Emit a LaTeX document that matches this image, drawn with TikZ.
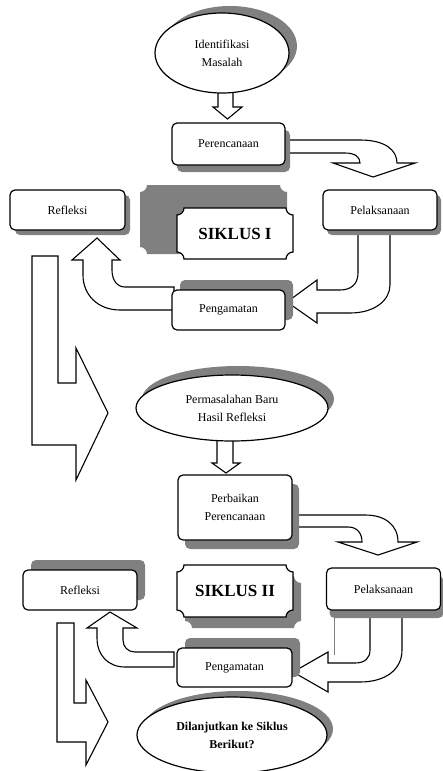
\documentclass[tikz,border=0pt]{standalone}
\usepackage{fontspec}
\setmainfont{Liberation Serif}
\usetikzlibrary{shapes.geometric,shadows}
\definecolor{shadowgrey}{RGB}{128,128,128}
\newcommand\plaquepath[5]{({#1+#5},#2) -- ({#3-#5},#2) .. controls ({#3-#5},{#2+0.55*#5}) and ({#3-0.55*#5},{#2+#5}) .. (#3,{#2+#5}) -- (#3,{#4-#5}) .. controls ({#3-0.55*#5},{#4-#5}) and ({#3-#5},{#4-0.55*#5}) .. ({#3-#5},#4) -- ({#1+#5},#4) .. controls ({#1+#5},{#4-0.55*#5}) and ({#1+0.55*#5},{#4-#5}) .. (#1,{#4-#5}) -- (#1,{#2+#5}) .. controls ({#1+0.55*#5},{#2+#5}) and ({#1+#5},{#2+0.55*#5}) .. ({#1+#5},#2) -- cycle}
\tikzset{
  lbl/.style={font=\fontsize{12}{18}\selectfont, align=center},
  box/.style={lbl, draw=black, line width=1.2pt, fill=white, rounded corners=5pt, inner sep=0pt},
  oval/.style={lbl, ellipse, draw=black, line width=1.2pt, fill=white, inner sep=0pt},
  shd/.style 2 args={drop shadow={shadow xshift=#1, shadow yshift=#2, fill=shadowgrey, opacity=1}},
  barrow/.style={draw=black, line width=1.1pt, fill=white, line join=miter},
  plq/.style={draw=black, line width=1.2pt, fill=white},
  big/.style={font=\fontsize{17}{20}\selectfont\bfseries},
}
\begin{document}
\begin{tikzpicture}[x=1pt,y=-1pt]
\useasboundingbox (0,0) rectangle (443,771);
\fill[white] (0,0) rectangle (443,771);

% ---------- shadows of plaques ----------
\fill[shadowgrey] \plaquepath{140}{185}{287}{254}{7};
\fill[shadowgrey] \plaquepath{185}{576}{301}{628}{7};

% ---------- block arrows (cycle I) ----------
\draw[barrow] (218,90) -- (233,90) -- (233,107) -- (242,107) -- (227.5,119) -- (213,107) -- (218,107) -- cycle;
\draw[barrow] (283,140) -- (360,140) .. controls (385,140) and (397,150) .. (397,163) -- (415,163) -- (373,177) -- (333,163) -- (360,163) .. controls (360,157) and (355,153) .. (345,153) -- (283,153) -- cycle;
\draw[barrow] (358,232) -- (358,273) .. controls (358,285) and (350,290) .. (340,290) -- (317,290) -- (317,280) -- (287,302) -- (317,323) -- (317,313) -- (350,313) .. controls (375,313) and (390,300) .. (390,285) -- (390,232) -- cycle;
\draw[barrow] (174,287) -- (125,287) .. controls (117,287) and (112,280) .. (112,270) -- (112,260) -- (120,260) -- (97,238) -- (72,260) -- (83,260) -- (83,275) .. controls (83,295) and (98,310) .. (120,310) -- (174,310) -- cycle;
\draw[barrow] (32,256) -- (58,256) -- (58,383) -- (76,383) -- (76,348) -- (108,413) -- (76,480) -- (76,445) -- (32,445) -- cycle;

% ---------- block arrows (cycle II) ----------
\draw[barrow] (217,438) -- (233,438) -- (233,463) -- (240,463) -- (226,473) -- (212,463) -- (217,463) -- cycle;
\draw[barrow] (290,515) -- (365,515) .. controls (385,515) and (398,525) .. (398,542) -- (417,542) -- (378,555) -- (338,542) -- (362,542) .. controls (362,533) and (357,527) .. (348,527) -- (290,527) -- cycle;
\draw[barrow] (370,612) -- (370,650) .. controls (370,658) and (365,663) .. (355,663) -- (328,663) -- (328,652) -- (293,672) -- (328,692) -- (328,682) -- (360,682) .. controls (385,682) and (402,670) .. (402,650) -- (402,612) -- cycle;
\draw[barrow] (174,652) -- (135,652) .. controls (128,652) and (123,647) .. (123,640) -- (123,628) -- (137,628) -- (110,612) -- (87,628) -- (97,628) -- (97,638) .. controls (97,655) and (108,667) .. (125,667) -- (174,667) -- cycle;
\draw[barrow] (57,623) -- (74,623) -- (74,703) -- (86,703) -- (86,680) -- (108,722) -- (86,765) -- (86,742) -- (57,742) -- cycle;

% ---------- nodes, cycle I ----------
\node[oval, minimum width=134pt, minimum height=80pt, shd={8pt}{7pt}] (idm) at (222,53) {Identifikasi\\Masalah};
\node[box, minimum width=113pt, minimum height=42pt, shd={5pt}{-7pt}] (per) at (228.5,144) {Perencanaan};
\node[box, minimum width=115pt, minimum height=40pt, shd={5pt}{-5pt}] (ref1) at (67.5,210) {Refleksi};
\node[box, minimum width=114pt, minimum height=40pt, shd={4pt}{-5pt}] (pel1) at (380,210) {Pelaksanaan};
\draw[plq] \plaquepath{177}{208}{293}{259}{7};
\node[big] (sik1) at (235,234) {SIKLUS I};
\node[box, minimum width=113pt, minimum height=40pt, shd={8pt}{10pt}] (pen1) at (228.5,310) {Pengamatan};

% ---------- nodes, cycle II ----------
\node[oval, minimum width=192pt, minimum height=66pt, shd={6pt}{9pt}] (pmb) at (232,408) {Permasalahan Baru\\Hasil Refleksi};
\node[box, minimum width=114pt, minimum height=65pt, shd={7pt}{-9pt}] (perb) at (235,507.5) {Perbaikan\\Perencanaan};
\node[box, minimum width=114pt, minimum height=40pt, shd={8pt}{10pt}] (ref2) at (80,590) {Refleksi};
\draw[plq] \plaquepath{177}{565}{293}{617}{7};
\node[big] (sik2) at (235,591) {SIKLUS II};
\draw[shadowgrey, line width=1pt] (334,598) -- (334,655);
\node[box, minimum width=114pt, minimum height=42pt, shd={3pt}{-8pt}] (pel2) at (383.5,589) {Pelaksanaan};
\node[box, minimum width=115pt, minimum height=39pt, shd={8pt}{10pt}] (pen2) at (234.5,667.5) {Pengamatan};
\node[oval, font=\fontsize{12}{18}\selectfont\bfseries, minimum width=190pt, minimum height=76pt, shd={6pt}{6pt}] (lanj) at (232,735) {Dilanjutkan ke Siklus\\Berikut?};
\end{tikzpicture}
\end{document}
